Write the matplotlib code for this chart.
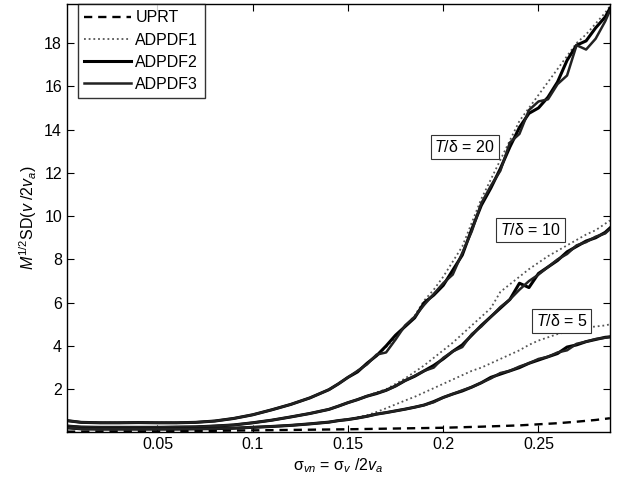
import matplotlib
matplotlib.use("Agg")
import matplotlib.pyplot as plt
import numpy as np

plt.rcParams['font.family'] = ['Liberation Sans', 'DejaVu Sans']
plt.rcParams['mathtext.fontset'] = 'custom'
plt.rcParams['mathtext.rm'] = 'Liberation Sans'
plt.rcParams['mathtext.it'] = 'Liberation Sans:italic'

# sigma_vn grid
x = [0.0025, 0.01, 0.02, 0.03, 0.04, 0.05, 0.06, 0.07, 0.08, 0.09, 0.10, 0.11, 0.12, 0.13,
     0.14, 0.145, 0.15, 0.155, 0.16, 0.165, 0.17, 0.175, 0.18, 0.185, 0.19, 0.195,
     0.20, 0.205, 0.21, 0.215, 0.22, 0.225, 0.23, 0.235, 0.24, 0.245, 0.25, 0.255,
     0.26, 0.265, 0.27, 0.275, 0.28, 0.285, 0.2875]

# UPRT
x_uprt = [0.0025, 0.05, 0.10, 0.15, 0.20, 0.22, 0.24, 0.25, 0.26, 0.27, 0.28, 0.2875]
uprt = [0.04, 0.05, 0.10, 0.15, 0.22, 0.27, 0.33, 0.38, 0.43, 0.50, 0.58, 0.66]

# T/delta = 20
adp1_20 = [0.55, 0.47, 0.45, 0.45, 0.46, 0.45, 0.45, 0.47, 0.53, 0.65, 0.82, 1.05, 1.30, 1.60,
           1.98, 2.25, 2.55, 2.85, 3.20, 3.55, 3.95, 4.40, 4.90, 5.40, 6.10, 6.60,
           7.20, 7.90, 8.60, 9.70, 10.80, 11.70, 12.60, 13.50, 14.40, 15.00, 15.60, 16.20,
           16.80, 17.40, 18.00, 18.40, 18.90, 19.40, 19.70]
adp2_20 = [0.55, 0.47, 0.45, 0.45, 0.46, 0.45, 0.45, 0.47, 0.53, 0.65, 0.82, 1.05, 1.30, 1.60,
           1.98, 2.25, 2.55, 2.80, 3.20, 3.55, 4.00, 4.50, 4.90, 5.30, 6.00, 6.35,
           6.80, 7.50, 8.20, 9.40, 10.50, 11.30, 12.20, 13.20, 14.10, 14.75, 15.00, 15.50,
           16.20, 17.20, 17.90, 18.10, 18.70, 19.20, 19.60]
adp3_20 = [0.55, 0.47, 0.45, 0.45, 0.46, 0.45, 0.45, 0.47, 0.53, 0.65, 0.82, 1.05, 1.30, 1.60,
           1.98, 2.25, 2.55, 2.85, 3.15, 3.60, 3.70, 4.30, 4.95, 5.35, 5.90, 6.40,
           6.90, 7.30, 8.30, 9.30, 10.60, 11.40, 12.10, 13.40, 13.80, 14.90, 15.30, 15.40,
           16.10, 16.50, 17.90, 17.70, 18.20, 19.00, 19.50]

# T/delta = 10
adp1_10 = [0.30, 0.25, 0.24, 0.24, 0.24, 0.24, 0.25, 0.26, 0.30, 0.35, 0.45, 0.57, 0.72, 0.88,
           1.07, 1.22, 1.38, 1.52, 1.70, 1.85, 2.00, 2.25, 2.50, 2.80, 3.10, 3.45,
           3.80, 4.15, 4.55, 4.95, 5.35, 5.75, 6.50, 6.85, 7.20, 7.55, 7.85, 8.15,
           8.40, 8.65, 8.90, 9.15, 9.35, 9.65, 9.80]
adp2_10 = [0.30, 0.25, 0.24, 0.24, 0.24, 0.24, 0.25, 0.26, 0.30, 0.35, 0.45, 0.57, 0.72, 0.88,
           1.07, 1.22, 1.38, 1.52, 1.68, 1.80, 1.95, 2.15, 2.40, 2.60, 2.85, 3.10,
           3.40, 3.75, 4.05, 4.50, 4.95, 5.35, 5.75, 6.15, 6.90, 6.70, 7.35, 7.65,
           7.95, 8.35, 8.60, 8.85, 9.00, 9.25, 9.45]
adp3_10 = [0.30, 0.25, 0.24, 0.24, 0.24, 0.24, 0.25, 0.26, 0.30, 0.35, 0.45, 0.57, 0.72, 0.88,
           1.07, 1.22, 1.38, 1.52, 1.68, 1.82, 1.95, 2.15, 2.40, 2.62, 2.85, 3.00,
           3.45, 3.75, 3.95, 4.55, 4.90, 5.35, 5.80, 6.15, 6.60, 7.00, 7.30, 7.65,
           8.00, 8.25, 8.65, 8.80, 9.05, 9.20, 9.40]

# T/delta = 5
adp1_5 = [0.22, 0.17, 0.16, 0.16, 0.16, 0.16, 0.16, 0.17, 0.18, 0.20, 0.24, 0.28, 0.33, 0.40,
          0.48, 0.55, 0.62, 0.70, 0.80, 0.95, 1.12, 1.30, 1.48, 1.65, 1.85, 2.05,
          2.25, 2.45, 2.65, 2.85, 3.00, 3.20, 3.40, 3.60, 3.80, 4.05, 4.25, 4.40,
          4.55, 4.65, 4.75, 4.85, 4.90, 4.95, 5.00]
adp2_5 = [0.22, 0.17, 0.16, 0.16, 0.16, 0.16, 0.16, 0.17, 0.18, 0.20, 0.24, 0.28, 0.33, 0.40,
          0.48, 0.55, 0.60, 0.67, 0.75, 0.85, 0.92, 1.00, 1.08, 1.17, 1.27, 1.43,
          1.62, 1.78, 1.92, 2.10, 2.30, 2.55, 2.70, 2.85, 3.00, 3.20, 3.35, 3.50,
          3.65, 3.95, 4.05, 4.20, 4.30, 4.40, 4.42]
adp3_5 = [0.22, 0.17, 0.16, 0.16, 0.16, 0.16, 0.16, 0.17, 0.18, 0.20, 0.24, 0.28, 0.33, 0.40,
          0.48, 0.55, 0.60, 0.67, 0.75, 0.85, 0.92, 1.00, 1.08, 1.17, 1.27, 1.40,
          1.62, 1.78, 1.95, 2.10, 2.30, 2.50, 2.75, 2.85, 3.05, 3.20, 3.40, 3.50,
          3.70, 3.80, 4.10, 4.20, 4.32, 4.38, 4.42]

labels = ["$T$/δ = 20", "$T$/δ = 10", "$T$/δ = 5"]
label_x = [0.2113, 0.2458, 0.262]
label_y = [13.2, 9.37, 5.15]

fs = 11.5
fig = plt.figure(figsize=(6.23, 4.82), dpi=100)
ax = fig.add_axes([0.1075, 0.104, 0.8715, 0.8875])

ax.plot(x_uprt, uprt, color='black', linestyle=(0, (3.5, 2.5)), linewidth=1.7, label='UPRT')
groups = [(adp1_20, adp2_20, adp3_20), (adp1_10, adp2_10, adp3_10), (adp1_5, adp2_5, adp3_5)]
for i, (a1, a2, a3) in enumerate(groups):
    ax.plot(x, a1, color='#555555', linestyle=(0, (1, 1.6)), linewidth=1.3,
            label='ADPDF1' if i == 0 else None)
    ax.plot(x, a2, color='black', linewidth=2.2, label='ADPDF2' if i == 0 else None)
    ax.plot(x, a3, color='#222222', linewidth=1.8, label='ADPDF3' if i == 0 else None)

for lab, lx, ly in zip(labels, label_x, label_y):
    ax.text(lx, ly, lab, ha='center', va='center', fontsize=fs, zorder=5,
            bbox=dict(boxstyle='square,pad=0.25', facecolor='white', edgecolor='#333333', linewidth=0.8))

ax.set_xlim(0.0025, 0.2875)
ax.set_ylim(0.03, 19.8)
ax.set_xticks([0.05, 0.1, 0.15, 0.2, 0.25])
ax.set_xticklabels(['0.05', '0.1', '0.15', '0.2', '0.25'])
ax.set_yticks(np.arange(2, 19, 2))
ax.tick_params(direction='in', top=True, right=True, length=5, labelsize=fs, width=0.8)
for s in ax.spines.values():
    s.set_linewidth(1.0)

ax.set_xlabel("σ$_{vn}$ = σ$_{v}$ /2$v_{a}$", fontsize=fs, labelpad=3)
ax.set_ylabel("$M^{\\mathrm{1/2}}$SD($v$ /2$v_{a}$)", fontsize=fs, labelpad=4)

leg = ax.legend(loc='upper left', fontsize=fs, handlelength=2.9, borderpad=0.4,
                labelspacing=0.45, handletextpad=0.3, fancybox=False,
                borderaxespad=0.0, bbox_to_anchor=(0.02, 1.0))
leg.get_frame().set_edgecolor('black')
leg.get_frame().set_linewidth(1.0)

fig.savefig('out.png', dpi=100)
